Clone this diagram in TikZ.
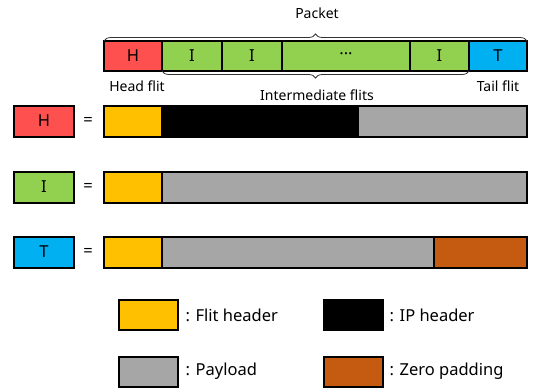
\documentclass[tikz,border=0pt]{standalone}
\usepackage{fontspec}
\setmainfont{Noto Sans}
\usetikzlibrary{decorations.pathreplacing}
\definecolor{headred}{HTML}{FF5050}
\definecolor{interg}{HTML}{92D050}
\definecolor{tailblue}{HTML}{00B0F0}
\definecolor{flity}{HTML}{FFC000}
\definecolor{payg}{HTML}{A6A6A6}
\definecolor{zerop}{HTML}{C55A11}
\begin{document}
\begin{tikzpicture}[x=1pt, y=-1pt, font=\fontsize{14}{16}\selectfont,
  big/.style={font=\fontsize{16.5}{19}\selectfont},
  cell/.style={draw, line width=2.4pt, minimum height=30pt, inner sep=0pt, outer sep=0pt, big},
  part/.style={draw, line width=2pt, minimum height=31pt, inner sep=0pt, outer sep=0pt, big},
  key/.style={draw, line width=2pt, minimum width=59pt, minimum height=30pt, inner sep=0pt},
  brace/.style={decorate, decoration={brace, amplitude=7pt}, line width=0.8pt, black!80}]
 \useasboundingbox (0,0) rectangle (533,388);
 % the packet
  \node [cell, fill=headred, minimum width=58pt] (ph) at (133,56) {H};
  \node [cell, fill=interg, minimum width=60pt] (pi1) at (192,56) {I};
  \node [cell, fill=interg, minimum width=60pt] (pi2) at (252,56) {I};
  \node [cell, fill=interg, minimum width=128pt] (pdots) at (346,56) {···};
  \node [cell, fill=interg, minimum width=59pt] (pi3) at (439.5,56) {I};
  \node [cell, fill=tailblue, minimum width=58pt] (pt) at (498,56) {T};
  \draw [brace] (ph.north west) -- (pt.north east);
  \node (packet) at (317,13) {Packet};
  \draw [brace] (pi3.south east) -- (pi1.south west);
  \node (inter) at (317,95) {Intermediate flits};
  \node (headlbl) at (137,86) {Head flit};
  \node (taillbl) at (498,86) {Tail flit};
 % head flit
  \node [part, fill=headred, minimum width=60pt] (hh) at (44,121) {H};
  \node [big] (eq1) at (88,121) {=};
  \node [part, fill=flity, minimum width=58pt] (h1) at (133,121) {};
  \node [part, fill=black, minimum width=196pt] (h2) at (260,121) {};
  \node [part, fill=payg, minimum width=169pt] (h3) at (442.5,121) {};
 % intermediate flit
  \node [part, fill=interg, minimum width=60pt] (ii) at (44,187) {I};
  \node [big] (eq2) at (88,187) {=};
  \node [part, fill=flity, minimum width=58pt] (i1) at (133,187) {};
  \node [part, fill=payg, minimum width=365pt] (i2) at (344.5,187) {};
 % tail flit
  \node [part, fill=tailblue, minimum width=60pt] (tt) at (44,252) {T};
  \node [big] (eq3) at (88,252) {=};
  \node [part, fill=flity, minimum width=58pt] (t1) at (133,252) {};
  \node [part, fill=payg, minimum width=272pt] (t2) at (298,252) {};
  \node [part, fill=zerop, minimum width=93pt] (t3) at (480.5,252) {};
 % legend
  \node [key, fill=flity] (kflit) at (148.5,315) {};
  \node [anchor=west, big] (lflit) at (182,315) {: Flit header};
  \node [key, fill=black] (kip) at (353,315) {};
  \node [anchor=west, big] (lip) at (386,315) {: IP header};
  \node [key, fill=payg] (kpay) at (148.5,371.5) {};
  \node [anchor=west, big] (lpay) at (182,371.5) {: Payload};
  \node [key, fill=zerop] (kzero) at (353,371.5) {};
  \node [anchor=west, big] (lzero) at (386,371.5) {: Zero padding};
 \end{tikzpicture}
\end{document}
